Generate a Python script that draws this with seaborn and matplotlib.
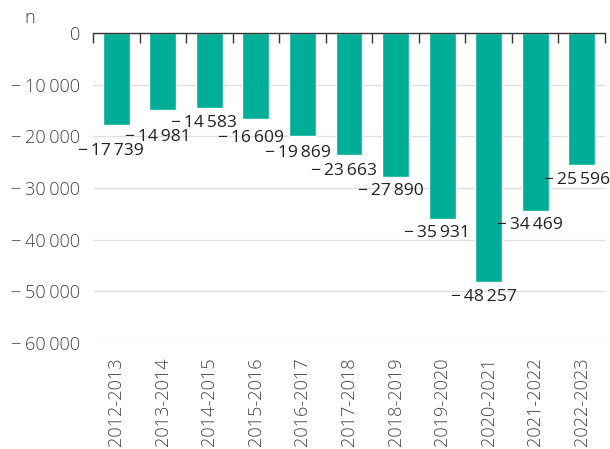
import numpy as np
import pandas as pd
import seaborn as sns
import matplotlib.pyplot as plt
from matplotlib.ticker import FixedLocator, FuncFormatter

# dane
okresy = ['2012-2013', '2013-2014', '2014-2015', '2015-2016', '2016-2017',
          '2017-2018', '2018-2019', '2019-2020', '2020-2021', '2021-2022',
          '2022-2023']
wartosci = [-17739, -14981, -14583, -16609, -19869, -23663, -27890,
            -35931, -48257, -34469, -25596]
y_ticks = [0, -10000, -20000, -30000, -40000, -50000, -60000]

# przesuniecia etykiet (px w dol od konca slupka)
label_offsets = [26, 27, 15, 19, 17, 16, 14, 14.5, 14.5, 14, 14.5]

sns.set_style("white")
plt.rcParams['font.family'] = ['Open Sans', 'DejaVu Sans']
FS = 12.6      # etykiety danych
FS_TICK = 13.1 # osie

def fmt(v, pos=None):
    v = int(round(v))
    if v == 0:
        return '0'
    s = f"{abs(v):,}".replace(',', '\u2009')
    return ('\u2212\u2009' if v < 0 else '') + s

dane = pd.DataFrame({'okres': okresy, 'n': wartosci})

fig = plt.figure(figsize=(6.10, 4.49), dpi=100)
ax = fig.add_axes([93/610, 1 - 343/449, (605 - 93)/610, (343 - 33)/449])

sns.barplot(data=dane, x='okres', y='n', color='#00ad97', saturation=1,
            width=0.58, ax=ax, zorder=3)

ax.set_ylim(-60000, 0)
ax.set_xlim(-0.5, len(okresy) - 0.5)
ax.set(xlabel=None, ylabel=None)

ax.yaxis.set_major_locator(FixedLocator(y_ticks))
ax.yaxis.set_major_formatter(FuncFormatter(fmt))
ax.grid(axis='y', color='#e0e0e0', lw=1, zorder=0)

for s in ['left', 'right', 'bottom']:
    ax.spines[s].set_visible(False)
ax.spines['top'].set_color('#333333')
ax.spines['top'].set_linewidth(1)
ax.spines['top'].set_zorder(4)

ax.tick_params(axis='y', length=0, pad=9.5, labelsize=FS_TICK, labelcolor='#444444')
ax.tick_params(axis='x', which='major', length=0, pad=10.5, labelsize=FS_TICK,
               labelcolor='#444444', labelrotation=90)
for t in ax.get_xticklabels() + ax.get_yticklabels():
    t.set_fontweight('light')
ax.xaxis.set_minor_locator(FixedLocator(np.arange(-0.5, len(okresy), 1)))
ax.tick_params(axis='x', which='minor', top=True, bottom=False, direction='in',
               length=7, width=1, color='#333333')

for i, v in enumerate(wartosci):
    ax.annotate(fmt(v), xy=(i, v), xytext=(-5, -label_offsets[i]),
                textcoords='offset pixels', ha='center', va='center',
                fontsize=FS, color='#222222', zorder=5)

fig.text(29.5/610, 1 - 23/449, 'n', ha='center', va='baseline',
         fontsize=FS_TICK, color='#444444', fontweight='light')

fig.savefig('out.png', dpi=100)
